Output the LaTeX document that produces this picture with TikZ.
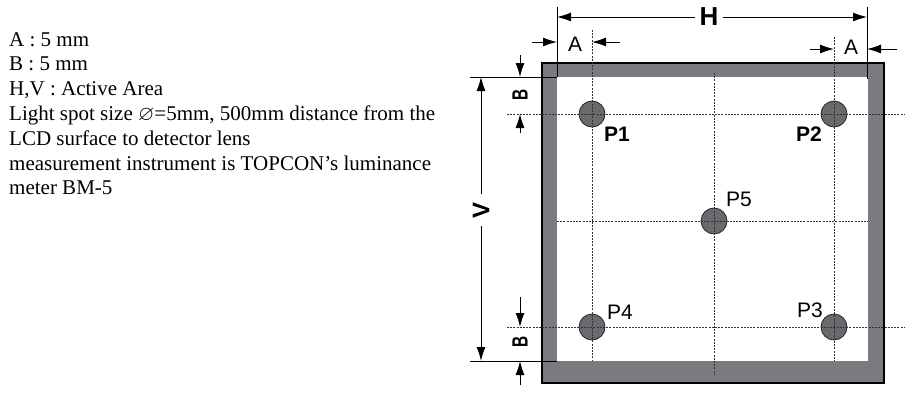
\documentclass[tikz,border=0pt]{standalone}
\usepackage{fontspec}
\usepackage{amssymb}
\setmainfont{Liberation Serif}
\setsansfont{Liberation Sans}
\usetikzlibrary{arrows.meta}
\definecolor{framegray}{RGB}{122,123,128}
\definecolor{spotgray}{RGB}{105,105,110}

\begin{document}
\begin{tikzpicture}[x=1pt,y=-1pt,
    dim/.style={line width=1pt,-{Latex[length=14pt,width=9pt]}},
    ext/.style={line width=1pt},
    grid/.style={line width=0.9pt,dash pattern=on 2pt off 1.2pt,black!80},
    spot/.style={circle,draw=black!85,fill=spotgray,minimum size=26pt,inner sep=0pt,line width=0.8pt},
    lbl/.style={font=\sffamily\fontsize{21}{21}\selectfont,inner sep=0pt}]
    \useasboundingbox (0,0) rectangle (905,394);

    % notes
    \node[anchor=north west,align=left,inner sep=0pt,font=\fontsize{21}{24.8}\selectfont] (notes) at (9,32)
        {A : 5 mm\\ B : 5 mm\\ H,V : Active Area\\ Light spot size $\varnothing$=5mm, 500mm distance from the\\ LCD surface to detector lens\\ measurement instrument is TOPCON’s luminance\\ meter BM-5};

    \coordinate (F1) at (542,63);
    \coordinate (F2) at (884,383);
    \coordinate (W1) at (557,77);
    \coordinate (W2) at (868,361);
    \coordinate (W3) at (557,361);
    \coordinate (W4) at (868,77);

    \fill[framegray] (F1) rectangle (F2); % frame
    \fill[white] (W1) rectangle (W2); % active area
    \draw[line width=1.2pt] (F1) rectangle (F2);

    % spots
    \node[spot] (S1) at (592,114) {};
    \node[spot] (S2) at (834,114) {};
    \node[spot] (S5) at (714,221) {};
    \node[spot] (S4) at (592,327) {};
    \node[spot] (S3) at (834,327) {};

    % dotted grid
    \coordinate (G1) at (507,114);
    \coordinate (G2) at (905,114);
    \coordinate (G3) at (507,327);
    \coordinate (G4) at (905,327);
    \coordinate (G5) at (557,221);
    \coordinate (G6) at (868,221);
    \coordinate (G7) at (592,30);
    \coordinate (G8) at (592,361);
    \coordinate (G9) at (834,37);
    \coordinate (G10) at (834,361);
    \coordinate (G11) at (714,73);
    \coordinate (G12) at (714,374);
    \draw[grid] (G1) -- (G2);
    \draw[grid] (G3) -- (G4);
    \draw[grid] (G5) -- (G6);
    \draw[grid] (G7) -- (G8);
    \draw[grid] (G9) -- (G10);
    \draw[grid] (G11) -- (G12);

    \node[lbl,font=\sffamily\bfseries\fontsize{21}{21}\selectfont] (L1) at (617,134) {P1};
    \node[lbl,font=\sffamily\bfseries\fontsize{21}{21}\selectfont] (L2) at (809,134) {P2};
    \node[lbl] (L5) at (739,199) {P5};
    \node[lbl] (L4) at (620,312) {P4};
    \node[lbl] (L3) at (810,310) {P3};

    % H
    \coordinate (E1) at (557,7);
    \coordinate (E2) at (867,7);
    \coordinate (E3) at (867,79);
    \draw[ext] (E1) -- (W1);
    \draw[ext] (E2) -- (E3);
    \coordinate (H1) at (557,17);
    \coordinate (H2) at (867,17);
    \node[lbl,font=\sffamily\bfseries\fontsize{26}{26}\selectfont,inner xsep=4pt] (H) at (709,17) {H};
    \draw[dim] (H) -- (H1);
    \draw[dim] (H) -- (H2);

    % A
    \coordinate (A1) at (532,42);
    \coordinate (A2) at (557,42);
    \coordinate (A3) at (592,42);
    \coordinate (A4) at (620,42);
    \node[lbl] (AL) at (575,44) {A};
    \draw[dim] (A1) -- (A2);
    \draw[dim] (A4) -- (A3);
    \coordinate (A5) at (810,49);
    \coordinate (A6) at (834,49);
    \coordinate (A7) at (867,49);
    \coordinate (A8) at (897,49);
    \node[lbl] (AR) at (851,47) {A};
    \draw[dim] (A5) -- (A6);
    \draw[dim] (A8) -- (A7);

    % V
    \coordinate (X1) at (470,77);
    \coordinate (X2) at (470,361);
    \draw[ext] (X1) -- (W1);
    \draw[ext] (X2) -- (W3);
    \coordinate (V1) at (481,77);
    \coordinate (V2) at (481,361);
    \node[lbl,font=\sffamily\bfseries\fontsize{24}{24}\selectfont,rotate=90,inner xsep=8pt] (V) at (481,210) {V};
    \draw[dim] (V) -- (V1);
    \draw[dim] (V) -- (V2);

    % B
    \coordinate (B1) at (520,55);
    \coordinate (B2) at (520,77);
    \coordinate (B3) at (520,133);
    \coordinate (B4) at (520,114);
    \node[lbl,font=\sffamily\bfseries\fontsize{22}{22}\selectfont,rotate=90] (BT) at (520,95) {\scalebox{0.7}[1]{B}};
    \draw[dim] (B1) -- (B2);
    \draw[dim] (B3) -- (B4);
    \coordinate (B5) at (520,297);
    \coordinate (B6) at (520,327);
    \coordinate (B7) at (520,385);
    \coordinate (B8) at (520,361);
    \node[lbl,font=\sffamily\bfseries\fontsize{22}{22}\selectfont,rotate=90] (BB) at (520,342) {\scalebox{0.7}[1]{B}};
    \draw[dim] (B5) -- (B6);
    \draw[dim] (B7) -- (B8);
\end{tikzpicture}
\end{document}
